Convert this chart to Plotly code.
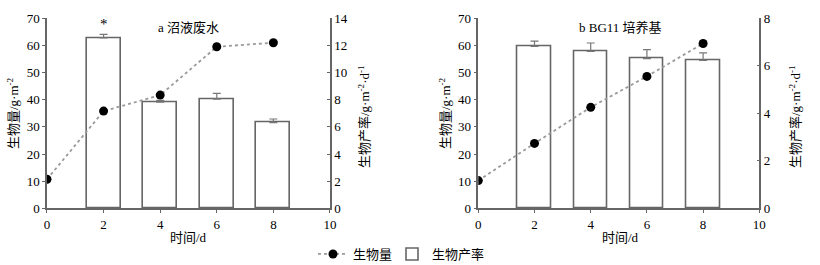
import plotly.graph_objects as go

days = [0, 2, 4, 6, 8]
bar_days = [2, 4, 6, 8]
x_ticks = [0, 2, 4, 6, 8, 10]

# panel a: 沼液废水
biomass_a = [10.7, 35.8, 41.7, 59.5, 61.0]
rate_a = [12.55, 7.83, 8.05, 6.31]
rate_a_err = [0.27, 0.12, 0.42, 0.27]

# panel b: BG11 培养基
biomass_b = [10.2, 23.9, 37.2, 48.6, 60.7]
rate_b = [6.82, 6.61, 6.30, 6.23]
rate_b_err = [0.22, 0.35, 0.38, 0.31]

FONT = "Liberation Serif, 'Noto Sans CJK SC', serif"
AX = "#666666"

fig = go.Figure()

def add_panel(n, biomass, rate, err, show):
    # bars on primary axis (right side), line on overlay axis (left side) so line is on top
    ybar = "y" if n == 1 else "y3"
    yline = "y2" if n == 1 else "y4"
    xa = "x" if n == 1 else "x2"
    fig.add_trace(go.Bar(
        x=bar_days, y=rate, width=1.2, xaxis=xa, yaxis=ybar,
        name="生物产率", showlegend=show, legend="legend2",
        marker=dict(color="white", line=dict(color=AX, width=1.6)),
        error_y=dict(type="data", array=err, arrayminus=[0]*len(err), symmetric=False,
                     color="#777777", thickness=1.2, width=4),
    ))
    fig.add_trace(go.Scatter(
        x=days, y=biomass, xaxis=xa, yaxis=yline, mode="lines+markers",
        name="生物量", showlegend=show, legend="legend",
        line=dict(color="#9a9a9a", width=1.8, dash="dot"),
        marker=dict(color="black", size=9),
    ))

add_panel(1, biomass_a, rate_a, rate_a_err, True)
add_panel(2, biomass_b, rate_b, rate_b_err, False)

ydom = [0.214, 0.931]
xcommon = dict(range=[0, 10], tickvals=x_ticks, showline=True, linecolor=AX, linewidth=1.5,
               ticks="outside", ticklen=3, tickcolor=AX, showgrid=False, zeroline=False,
               automargin=False,
               tickfont=dict(family=FONT, size=13, color="black"))
ycommon = dict(showline=True, linecolor=AX, linewidth=1.5, showgrid=False, zeroline=False,
               automargin=False,
               tickfont=dict(family=FONT, size=13, color="black"), tickcolor=AX, ticklen=3)

legend_common = dict(orientation="h", xanchor="left", y=1-254/265, yanchor="middle",
                     font=dict(family=FONT, size=13, color="black"), itemwidth=30,
                     bgcolor="rgba(0,0,0,0)")

fig.update_layout(
    width=820, height=265, margin=dict(l=0, r=0, t=0, b=0, autoexpand=False),
    paper_bgcolor="white", plot_bgcolor="rgba(0,0,0,0)",
    bargap=0,
    xaxis=dict(domain=[0.0573, 0.4024], anchor="y", **xcommon),
    xaxis2=dict(domain=[0.5833, 0.9260], anchor="y3", **xcommon),
    yaxis=dict(domain=ydom, anchor="x", side="right", range=[0, 14], tickvals=list(range(0, 15, 2)),
               ticks="inside", **ycommon),
    yaxis2=dict(overlaying="y", anchor="x", side="left", range=[0, 70], tickvals=list(range(0, 71, 10)),
                ticks="outside", **ycommon),
    yaxis3=dict(domain=ydom, anchor="x2", side="right", range=[0, 8], tickvals=list(range(0, 9, 2)),
                ticks="inside", **ycommon),
    yaxis4=dict(overlaying="y3", anchor="x2", side="left", range=[0, 70], tickvals=list(range(0, 71, 10)),
                ticks="outside", **ycommon),
    legend=dict(x=313/820, **legend_common),
    legend2=dict(x=392/820, **legend_common),
)

ann = []
def a(text, x, y, angle=0, size=13, font=FONT, xref="paper", yref="paper", yanchor="middle", **kw):
    ann.append(dict(text=text, x=x, y=y, xref=xref, yref=yref, showarrow=False, textangle=angle,
                    xanchor="center", yanchor=yanchor,
                    font=dict(family=font, size=size, color="black"), **kw))

# panel titles
a("a 沼液废水", 188/820, 1-28/265, size=13)
a("b BG11 培养基", 620/820, 1-28/265, size=13)
# star
a("*", 2, 12.85, xref="x", yref="y", font=FONT, size=15, yanchor="bottom")
# x titles
a("时间/d", 188/820, 1-237/265)
a("时间/d", 620/820, 1-237/265)
# y titles
a("生物量/g·m<sup>-2</sup>", 13/820, 1-113/265, angle=-90)
a("生物产率/g·m<sup>-2</sup>·d<sup>-1</sup>", 364/820, 1-117/265, angle=-90)
a("生物量/g·m<sup>-2</sup>", 445/820, 1-113/265, angle=-90)
a("生物产率/g·m<sup>-2</sup>·d<sup>-1</sup>", 795/820, 1-117/265, angle=-90)
fig.update_layout(annotations=ann)

fig.write_html("out.html")
